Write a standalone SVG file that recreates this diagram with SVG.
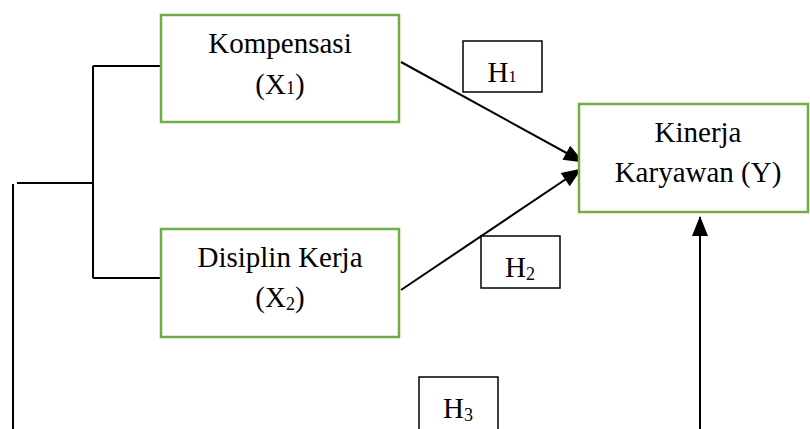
<svg xmlns="http://www.w3.org/2000/svg" width="810" height="429" viewBox="0 0 810 429">
<defs>
<marker id="ah" markerWidth="20" markerHeight="16" refX="19" refY="8" orient="auto" markerUnits="userSpaceOnUse" overflow="visible">
<path d="M0,0 L20,8 L0,16 Z" fill="#000"/>
</marker>
</defs>
<style>
.node{fill:#fff;stroke:#70AD47;stroke-width:2.5}
.hbox{fill:#fff;stroke:#000;stroke-width:1.5}
.ln{fill:none;stroke:#000;stroke-width:2}
</style>
<rect width="810" height="429" fill="#fff"/>
<g id="connectors">
<line class="ln" x1="13" y1="184" x2="13" y2="429"/>
<line class="ln" x1="17" y1="183" x2="93" y2="183"/>
<line class="ln" x1="93" y1="66" x2="93" y2="278"/>
<line class="ln" x1="93" y1="66" x2="161" y2="66"/>
<line class="ln" x1="93" y1="278" x2="161" y2="278"/>
<line class="ln" x1="401" y1="62" x2="583" y2="162" marker-end="url(#ah)"/>
<line class="ln" x1="401" y1="290" x2="581" y2="169" marker-end="url(#ah)"/>
<line class="ln" x1="700" y1="429" x2="700" y2="217" marker-end="url(#ah)"/>
</g>
<g font-family="'Liberation Serif', 'Times New Roman', serif" font-size="29" fill="#000" text-anchor="middle">
<g id="kompensasi">
<rect class="node" x="161" y="15" width="238" height="107"/>
<text x="280" y="53">Kompensasi</text>
<text x="280" y="94">(X<tspan font-size="18">1</tspan>)</text>
</g>
<g id="disiplin">
<rect class="node" x="161" y="229" width="238" height="108"/>
<text x="280" y="267">Disiplin Kerja</text>
<text x="280" y="307">(X<tspan font-size="18" dy="3">2</tspan><tspan dy="-3">)</tspan></text>
</g>
<g id="kinerja">
<rect class="node" x="579" y="104" width="229" height="108"/>
<text x="698" y="142">Kinerja</text>
<text x="698" y="182">Karyawan (Y)</text>
</g>
<g id="h1">
<rect class="hbox" x="463" y="41" width="79" height="51"/>
<text x="502" y="82">H<tspan font-size="16">1</tspan></text>
</g>
<g id="h2">
<rect class="hbox" x="481" y="236" width="79" height="52"/>
<text x="520" y="277">H<tspan font-size="18" dy="3">2</tspan></text>
</g>
<g id="h3">
<rect class="hbox" x="419" y="377" width="79" height="55"/>
<text x="458" y="418">H<tspan font-size="18" dy="3">3</tspan></text>
</g>
</g>
</svg>
